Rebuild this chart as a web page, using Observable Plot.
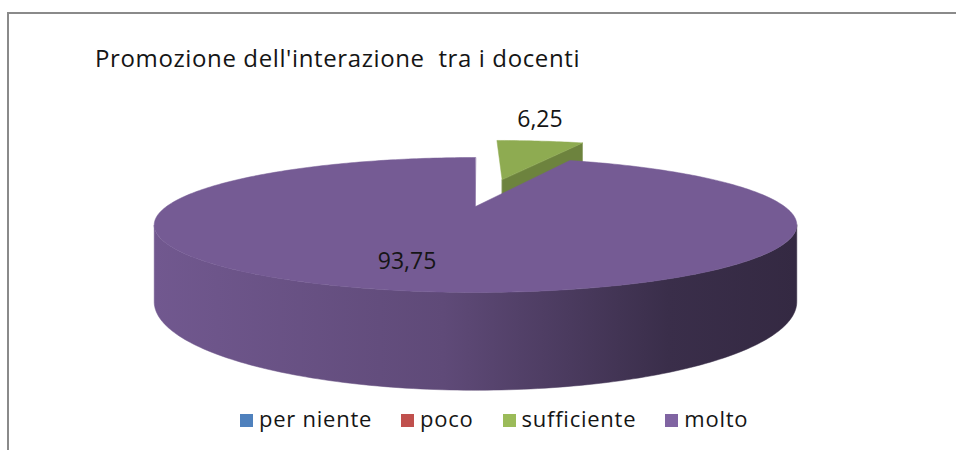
<!DOCTYPE html>
<html>
<head>
<meta charset="utf-8">
<script src="https://cdn.jsdelivr.net/npm/d3@7"></script>
<script src="https://cdn.jsdelivr.net/npm/@observablehq/plot@0.6"></script>
<style>
  html, body { margin: 0; padding: 0; background: #fff; }
  #wrap { position: relative; width: 956px; height: 450px; overflow: hidden; font-family: "Open Sans", Lato, sans-serif; color: #151515; }
  #frame { position: absolute; left: 7px; top: 12px; width: 960px; height: 450px; border-top: 2px solid #8a8a8a; border-left: 2px solid #8a8a8a; box-sizing: border-box; }
  #chart { position: absolute; left: 0; top: 0; }
  #title { position: absolute; left: 95px; top: 46px; font-size: 24px; line-height: 1; letter-spacing: 0.62px; white-space: pre; }
  #legend { position: absolute; left: 240px; top: 407px; display: flex; gap: 29px; font-size: 22px; line-height: 1; letter-spacing: 0.75px; white-space: pre; }
  .item { display: flex; align-items: center; }
  .sw { width: 13px; height: 13px; margin-right: 6px; margin-top: 4px; }
</style>
</head>
<body>
<div id="wrap">
  <div id="frame"></div>
  <div id="chart"></div>
  <div id="title"></div>
  <div id="legend"></div>
</div>
<script>
// ---- data ----
const titleText = "Promozione dell'interazione  tra i docenti";
const categories = ["per niente", "poco", "sufficiente", "molto"];
const values = [0, 0, 6.25, 93.75];
const colors = ["#4f81bd", "#c0504d", "#9bbb59", "#8064a2"];
const exploded = ["sufficiente"];

// ---- view / style parameters ----
const V = {cx: 475, cy: 206, rx: 309, a: 62.4, b: 0.274, h: 71, explode: 0.5};
const fmt = d3.formatLocale({decimal: ",", thousands: ".", grouping: [3], currency: ["", "€"]}).format(".2f");

const total = d3.sum(values);
let acc = 0;
const slices = categories.map((c, i) => {
  const start = acc / total * 360;
  acc += values[i];
  const end = acc / total * 360;
  const mid = (start + end) / 2;
  const e = exploded.includes(c) ? V.explode : 0;
  const rad = mid * Math.PI / 180;
  return {cat: c, value: values[i], color: colors[i], start, end, mid,
          ox: e * Math.sin(rad), oz: -e * Math.cos(rad)};
}).filter(s => s.value > 0);

function proj(X, Z, down = 0) {
  const s = 1 / (1 - V.b * Z);
  return [V.cx + V.rx * X * s, V.cy + V.a * Z * s + V.h * down * s];
}
function pt(s, deg, r = 1, down = 0) {
  const t = deg * Math.PI / 180;
  return proj(s.ox + r * Math.sin(t), s.oz - r * Math.cos(t), down);
}
function arc(s, a0, a1, down = 0) {
  const n = Math.max(2, Math.ceil(Math.abs(a1 - a0)));
  return d3.range(n + 1).map(k => pt(s, a0 + (a1 - a0) * k / n, 1, down));
}

// visible outer wall range (silhouette of the cylinder)
const sil = Math.acos(-V.b) * 180 / Math.PI; // ~106°
const polys = [];
const depth = s => s.oz - 0.5 * Math.cos(s.mid * Math.PI / 180);
const order = slices.slice().sort((p, q) => depth(p) - depth(q)); // farthest first
order.forEach(s => {
  const base = d3.color(s.color);
  // outer wall
  const w0 = Math.max(s.start, sil), w1 = Math.min(s.end, 360 - sil);
  if (w1 > w0) {
    const pts = arc(s, w0, w1, 0).concat(arc(s, w1, w0, 1));
    polys.push({pts, fill: "url(#wall-" + s.cat.replace(/\s/g, "") + ")"});
  }
  // radial faces
  const c0 = proj(s.ox, s.oz, 0), c1 = proj(s.ox, s.oz, 1);
  if (s.end < 180) {
    polys.push({pts: [c0, pt(s, s.end, 1, 0), pt(s, s.end, 1, 1), c1], fill: base.darker(1.0).formatHex()});
  }
  if (s.start > 180) {
    polys.push({pts: [c0, pt(s, s.start, 1, 0), pt(s, s.start, 1, 1), c1], fill: base.darker(1.0).formatHex()});
  }
  // top face
  const top = [c0].concat(arc(s, s.start, s.end, 0));
  polys.push({pts: top, fill: base.darker(0.25).formatHex()});
});

// labels
const labels = slices.map(s => {
  const big = s.value > 50;
  const p = big ? pt(s, s.mid + 1.75, 0.78) : pt(s, s.mid, 1.0);
  return {x: p[0], y: p[1] + (big ? -5 : -21), text: fmt(s.value)};
});

const marks = polys.map(p =>
  Plot.line(p.pts, {x: d => d[0], y: d => d[1], fill: p.fill, stroke: p.fill, strokeWidth: 0.5, curve: "linear-closed"})
);
marks.push(Plot.text(labels, {x: "x", y: "y", text: "text", fontSize: 23, fill: "#151515", fontFamily: "'Open Sans', sans-serif"}));

const svg = Plot.plot({
  width: 956, height: 450, margin: 0,
  x: {domain: [0, 956], range: [0, 956], axis: null},
  y: {domain: [0, 450], range: [0, 450], axis: null},
  style: {background: "transparent"},
  marks
});

// gradients for the side walls
const ns = "http://www.w3.org/2000/svg";
const defs = document.createElementNS(ns, "defs");
slices.forEach(s => {
  const g = document.createElementNS(ns, "linearGradient");
  g.setAttribute("id", "wall-" + s.cat.replace(/\s/g, ""));
  g.setAttribute("x1", "0"); g.setAttribute("x2", "1"); g.setAttribute("y1", "0"); g.setAttribute("y2", "0");
  const base = d3.color(s.color);
  [[0, 0.35], [0.45, 0.85], [0.8, 2.2], [1, 2.5]].forEach(([o, k]) => {
    const st = document.createElementNS(ns, "stop");
    st.setAttribute("offset", o);
    st.setAttribute("stop-color", base.darker(k).formatHex());
    g.appendChild(st);
  });
  defs.appendChild(g);
});
svg.insertBefore(defs, svg.firstChild);
document.getElementById("chart").appendChild(svg);

document.getElementById("title").textContent = titleText;
const leg = d3.select("#legend");
categories.forEach((c, i) => {
  const it = leg.append("div").attr("class", "item");
  it.append("div").attr("class", "sw").style("background", colors[i]);
  it.append("span").text(c);
});
</script>
</body>
</html>
